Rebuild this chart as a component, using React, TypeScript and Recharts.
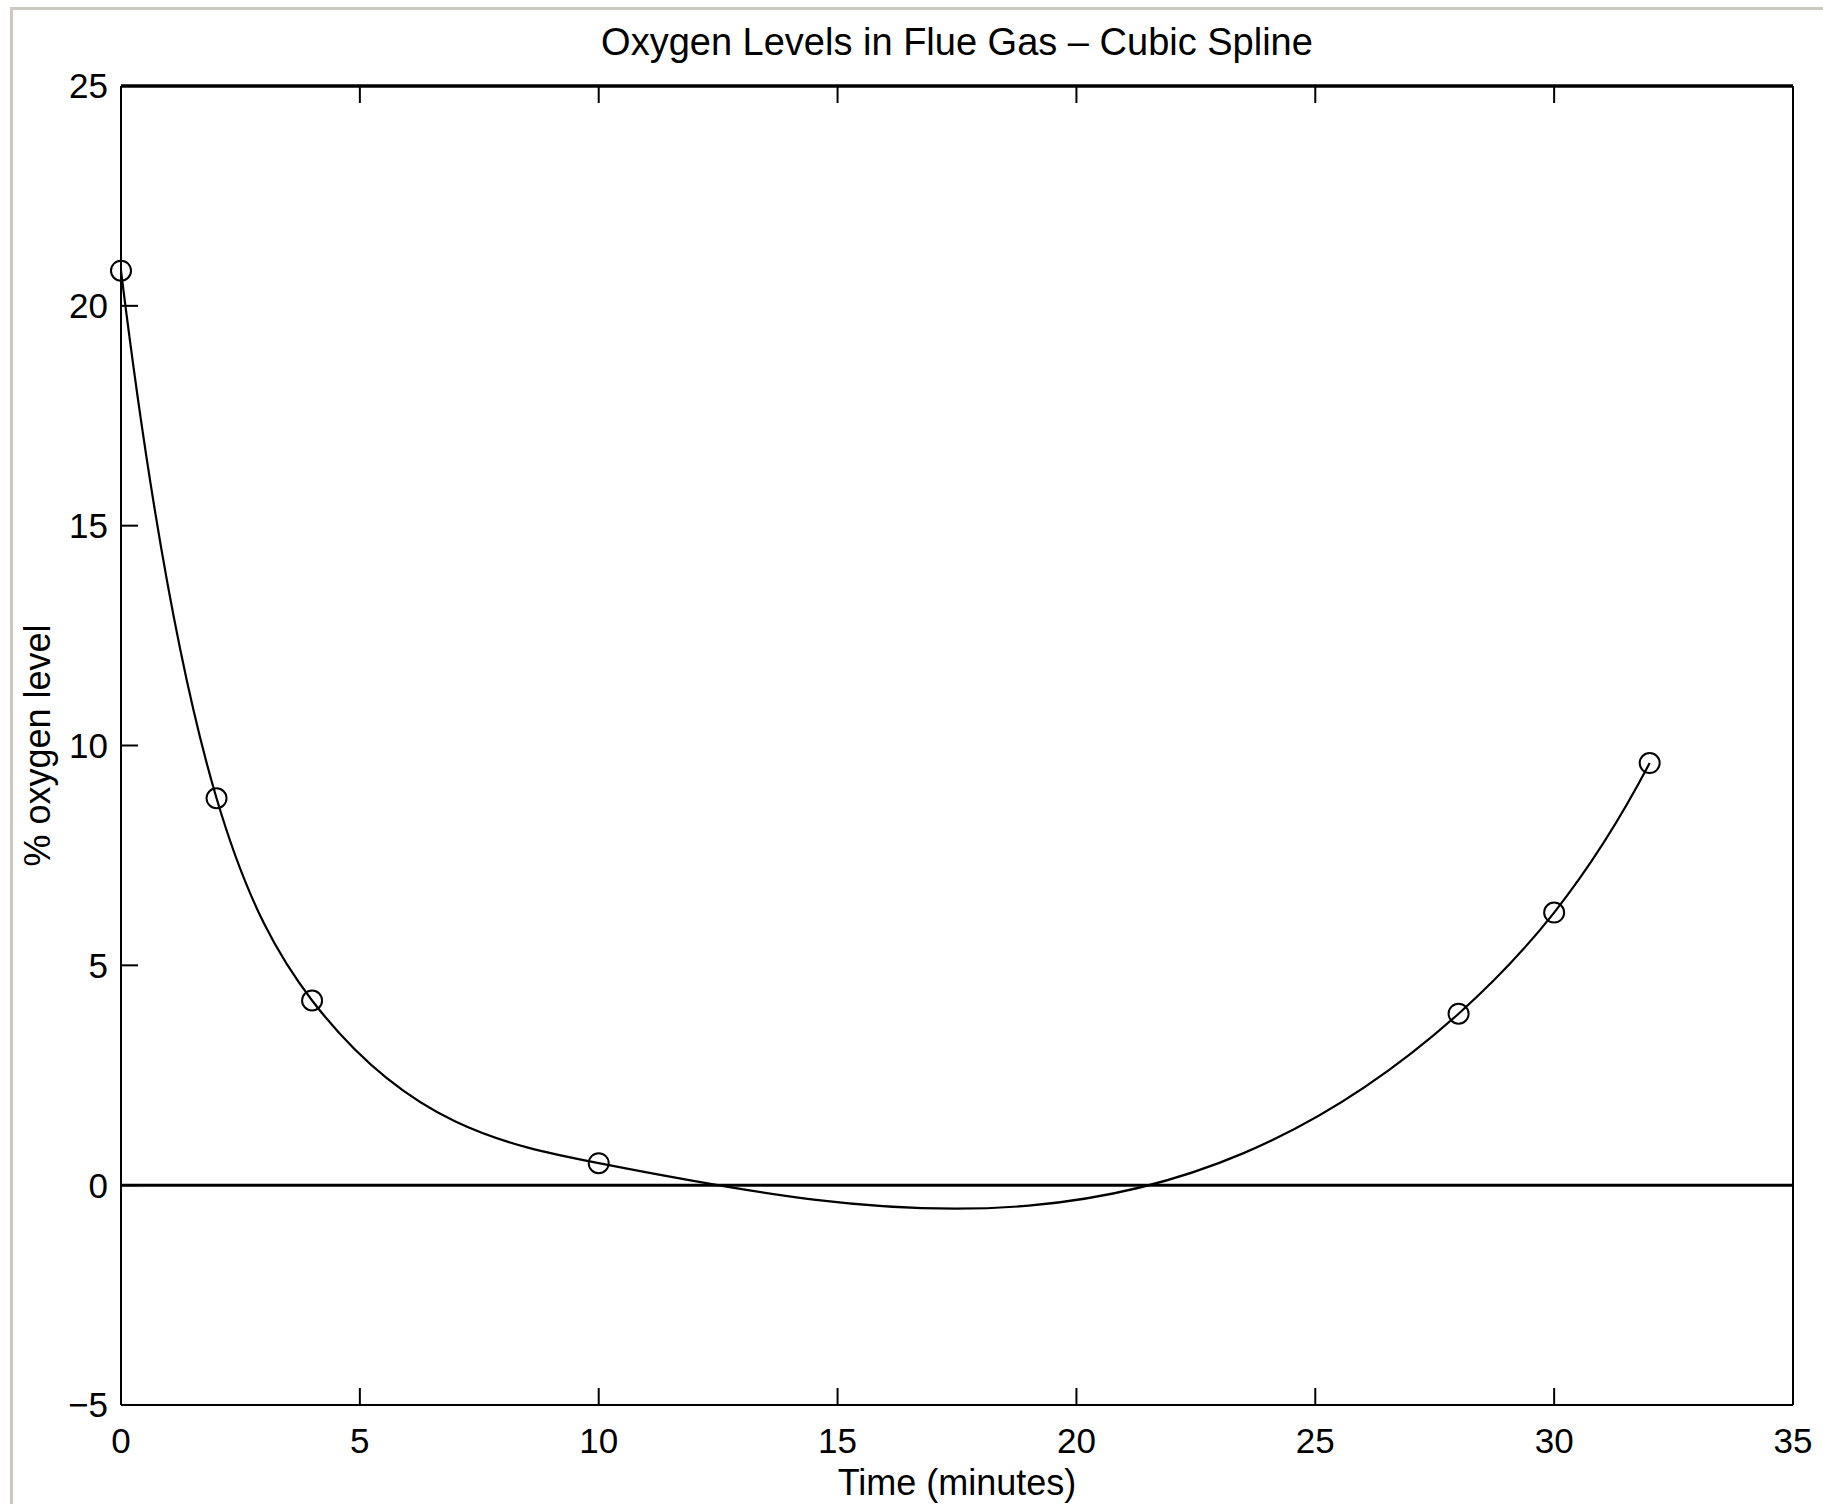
import React from 'react';
import { LineChart, Line, XAxis, YAxis, ReferenceLine } from 'recharts';

const timeMinutes = [0, 2, 4, 10, 28, 30, 32];
const oxygenLevel = [20.8, 8.8, 4.2, 0.5, 3.9, 6.2, 9.6];
const xTicks = [0, 5, 10, 15, 20, 25, 30, 35];
const yTicks = [-5, 0, 5, 10, 15, 20, 25];
const chartTitle = 'Oxygen Levels in Flue Gas \u2013 Cubic Spline';
const xLabel = 'Time (minutes)';
const yLabel = '% oxygen level';

const data = timeMinutes.map((t, i) => ({ time: t, oxygen: oxygenLevel[i] }));

const FONT = "'Liberation Sans', Arial, Helvetica, sans-serif";

// Not-a-knot cubic spline slopes (same end conditions as MATLAB's spline)
function splineSlopes(x: number[], y: number[]): number[] {
  const n = x.length;
  const h: number[] = [];
  const d: number[] = [];
  for (let i = 0; i < n - 1; i++) {
    h.push(x[i + 1] - x[i]);
    d.push((y[i + 1] - y[i]) / h[i]);
  }
  if (n === 2) return [d[0], d[0]];
  if (n === 3) {
    const s1 = (h[1] * d[0] + h[0] * d[1]) / (h[0] + h[1]);
    return [2 * d[0] - s1, s1, 2 * d[1] - s1];
  }
  const A: number[][] = Array.from({ length: n }, () => new Array(n).fill(0));
  const b: number[] = new Array(n).fill(0);
  A[0][0] = h[1];
  A[0][1] = h[0] + h[1];
  b[0] = ((h[0] + 2 * (h[0] + h[1])) * h[1] * d[0] + h[0] * h[0] * d[1]) / (h[0] + h[1]);
  for (let i = 1; i < n - 1; i++) {
    A[i][i - 1] = h[i];
    A[i][i] = 2 * (h[i - 1] + h[i]);
    A[i][i + 1] = h[i - 1];
    b[i] = 3 * (h[i] * d[i - 1] + h[i - 1] * d[i]);
  }
  const a = h[n - 2];
  const c = h[n - 3];
  A[n - 1][n - 2] = a + c;
  A[n - 1][n - 1] = c;
  b[n - 1] = (a * a * d[n - 3] + (2 * (c + a) + a) * c * d[n - 2]) / (c + a);
  for (let k = 0; k < n; k++) {
    let p = k;
    for (let r = k + 1; r < n; r++) if (Math.abs(A[r][k]) > Math.abs(A[p][k])) p = r;
    [A[k], A[p]] = [A[p], A[k]];
    [b[k], b[p]] = [b[p], b[k]];
    for (let r = k + 1; r < n; r++) {
      const f = A[r][k] / A[k][k];
      if (f === 0) continue;
      for (let cc = k; cc < n; cc++) A[r][cc] -= f * A[k][cc];
      b[r] -= f * b[k];
    }
  }
  const s = new Array(n).fill(0);
  for (let k = n - 1; k >= 0; k--) {
    let sum = b[k];
    for (let cc = k + 1; cc < n; cc++) sum -= A[k][cc] * s[cc];
    s[k] = sum / A[k][k];
  }
  return s;
}

// Custom curve factory: cubic spline y(x) through the points the library places
function cubicSplineCurve(context: any) {
  let xs: number[] = [];
  let ys: number[] = [];
  return {
    areaStart() {},
    areaEnd() {},
    lineStart() {
      xs = [];
      ys = [];
    },
    point(x: number, y: number) {
      xs.push(+x);
      ys.push(+y);
    },
    lineEnd() {
      const n = xs.length;
      if (n === 0) return;
      context.moveTo(xs[0], ys[0]);
      if (n === 1) return;
      const s = splineSlopes(xs, ys);
      for (let i = 0; i < n - 1; i++) {
        const hh = xs[i + 1] - xs[i];
        context.bezierCurveTo(
          xs[i] + hh / 3,
          ys[i] + (s[i] * hh) / 3,
          xs[i + 1] - hh / 3,
          ys[i + 1] - (s[i + 1] * hh) / 3,
          xs[i + 1],
          ys[i + 1]
        );
      }
    },
  };
}

const fmt = (v: number) => (v < 0 ? '\u2212' + Math.abs(v) : String(v));
const NoLabel = () => <g />;

export default function App() {
  const tickStyle = { fill: '#000', fontSize: 35, fontFamily: FONT };
  const lineStyle = { stroke: '#000', strokeWidth: 2 };
  return (
    <div
      style={{
        position: 'fixed',
        left: 0,
        top: 0,
        width: 1823,
        height: 1504,
        overflow: 'hidden',
        background: '#fff',
      }}
    >
      <div
        style={{
          position: 'absolute',
          left: 10,
          top: 7,
          width: 1830,
          height: 1510,
          borderLeft: '3px solid #cdc9bf',
          borderTop: '3px solid #cdc9bf',
        }}
      />
      <div style={{ position: 'absolute', left: 0, top: 0 }}>
        <LineChart
          width={1823}
          height={1504}
          data={data}
          margin={{ top: 85, right: 29, bottom: 0, left: 0 }}
        >
          <XAxis
            xAxisId="b"
            dataKey="time"
            type="number"
            domain={[0, 35]}
            ticks={xTicks}
            interval={0}
            orientation="bottom"
            height={99}
            tickSize={-17}
            tickMargin={40}
            tick={tickStyle}
            tickLine={lineStyle}
            axisLine={lineStyle}
            tickFormatter={fmt}
            label={{
              value: xLabel,
              position: 'insideBottom',
              offset: 9,
              fill: '#000',
              fontSize: 36,
              fontFamily: FONT,
            }}
          />
          <XAxis
            xAxisId="t"
            dataKey="time"
            type="number"
            domain={[0, 35]}
            ticks={xTicks}
            interval={0}
            orientation="top"
            height={1}
            tickSize={-17}
            tick={NoLabel}
            tickLine={lineStyle}
            axisLine={{ stroke: '#000', strokeWidth: 3.5 }}
            label={{
              value: chartTitle,
              position: 'top',
              offset: 30,
              fill: '#000',
              fontSize: 38,
              fontFamily: FONT,
            }}
          />
          <YAxis
            yAxisId="l"
            type="number"
            domain={[-5, 25]}
            ticks={yTicks}
            interval={0}
            orientation="left"
            width={121}
            tickSize={-17}
            tickMargin={30}
            tick={tickStyle}
            tickLine={lineStyle}
            axisLine={lineStyle}
            tickFormatter={fmt}
            label={{
              value: yLabel,
              position: 'insideLeft',
              angle: -90,
              offset: 37,
              fill: '#000',
              fontSize: 36,
              fontFamily: FONT,
              style: { textAnchor: 'middle' },
            }}
          />
          <YAxis
            yAxisId="r"
            type="number"
            domain={[-5, 25]}
            ticks={yTicks}
            interval={0}
            orientation="right"
            width={1}
            tickSize={-17}
            tick={NoLabel}
            tickLine={lineStyle}
            axisLine={lineStyle}
          />
          <ReferenceLine
            xAxisId="b"
            yAxisId="l"
            y={0}
            stroke="#000"
            strokeWidth={3}
          />
          <Line
            xAxisId="b"
            yAxisId="l"
            dataKey="oxygen"
            type={cubicSplineCurve as any}
            stroke="#000"
            strokeWidth={2.2}
            dot={{ r: 10, stroke: '#000', strokeWidth: 2, fill: 'none' }}
            activeDot={false}
            isAnimationActive={false}
          />
        </LineChart>
      </div>
    </div>
  );
}
